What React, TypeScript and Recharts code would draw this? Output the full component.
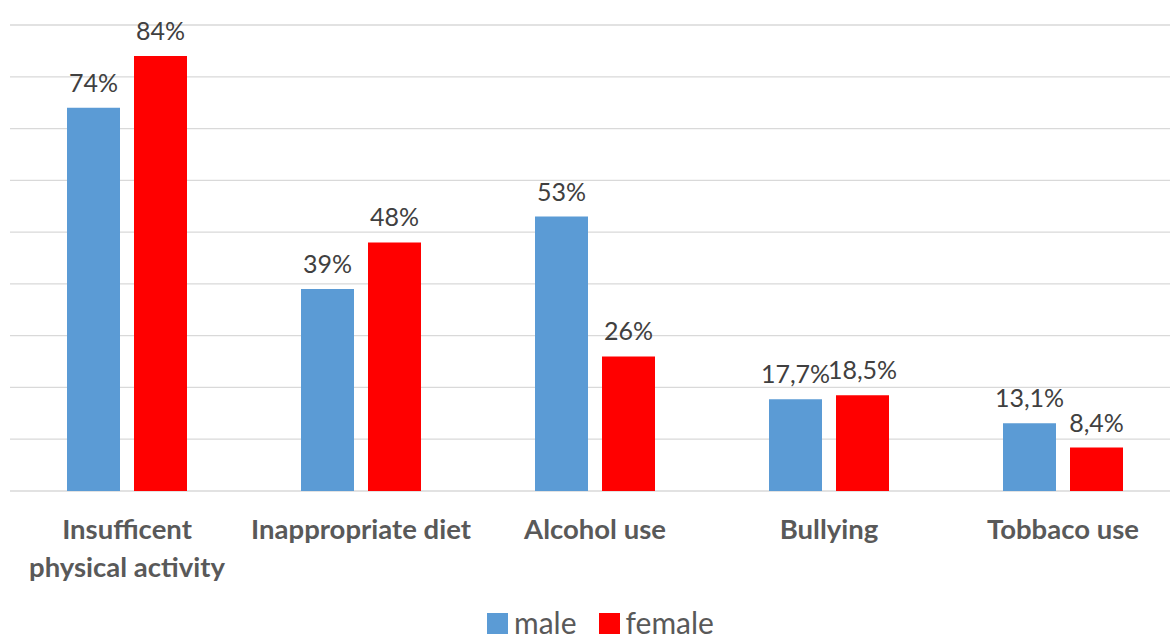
import React from 'react';
import { Bar, BarChart, CartesianGrid, LabelList, Legend, XAxis, YAxis } from 'recharts';

const categories = [
  ['Insufficent', 'physical activity'],
  ['Inappropriate diet'],
  ['Alcohol use'],
  ['Bullying'],
  ['Tobbaco use'],
];
const maleValues = [74, 39, 53, 17.7, 13.1];
const femaleValues = [84, 48, 26, 18.5, 8.4];
const yTicks = [0, 10, 20, 30, 40, 50, 60, 70, 80, 90];

const BLUE = '#5B9BD5';
const RED = '#FF0000';
const FONT = 'Lato, "Open Sans", sans-serif';

const data = categories.map((lines, i) => ({
  name: lines.join(' '),
  lines,
  male: maleValues[i],
  female: femaleValues[i],
}));

const fmt = (v: number) => String(v).replace('.', ',') + '%';

const CategoryTick = (props: any) => {
  const { x, y, index } = props;
  const lines = categories[index] || [];
  return (
    <g transform={`translate(${x},${y})`}>
      {lines.map((line, i) => (
        <text
          key={i}
          x={0}
          y={48 + i * 38}
          textAnchor="middle"
          fill="#595959"
          fontFamily={FONT}
          fontWeight={700}
          fontSize={27.5}
        >
          {line}
        </text>
      ))}
    </g>
  );
};

const LegendContent = () => (
  <div
    style={{
      display: 'flex',
      alignItems: 'flex-end',
      fontFamily: FONT,
      fontSize: 30,
      color: '#595959',
      height: 36,
      lineHeight: '30px',
    }}
  >
    {[
      { label: 'male', color: BLUE },
      { label: 'female', color: RED },
    ].map((item, i) => (
      <div
        key={item.label}
        style={{ display: 'flex', alignItems: 'flex-end', marginRight: i === 0 ? 22 : 0 }}
      >
        <div style={{ width: 21, height: 21, background: item.color, marginRight: 6, marginBottom: 3 }} />
        <span>{item.label}</span>
      </div>
    ))}
  </div>
);

export default function App() {
  return (
    <div
      style={{
        position: 'absolute',
        left: 0,
        top: 0,
        width: 1170,
        height: 639,
        overflow: 'hidden',
        background: '#fff',
      }}
    >
      <BarChart
        width={1180}
        height={639}
        data={data}
        margin={{ top: 25, right: 0, left: 10, bottom: 0 }}
        barSize={53}
        barGap={14}
      >
        <CartesianGrid vertical={false} stroke="#D9D9D9" strokeWidth={1.3} />
        <XAxis
          dataKey="name"
          axisLine={false}
          tickLine={false}
          tickSize={0}
          tickMargin={0}
          height={112}
          interval={0}
          tick={<CategoryTick />}
        />
        <YAxis hide domain={[0, 90]} ticks={yTicks} />
        <Legend
          verticalAlign="bottom"
          height={36}
          wrapperStyle={{ left: 487, width: 320, bottom: 2 }}
          content={<LegendContent />}
        />
        <Bar dataKey="male" fill={BLUE} isAnimationActive={false}>
          <LabelList
            dataKey="male"
            position="top"
            offset={16}
            formatter={(v: any) => fmt(v)}
            fill="#404040"
            fontFamily={FONT}
            fontSize={25}
          />
        </Bar>
        <Bar dataKey="female" fill={RED} isAnimationActive={false}>
          <LabelList
            dataKey="female"
            position="top"
            offset={16}
            formatter={(v: any) => fmt(v)}
            fill="#404040"
            fontFamily={FONT}
            fontSize={25}
          />
        </Bar>
      </BarChart>
    </div>
  );
}
